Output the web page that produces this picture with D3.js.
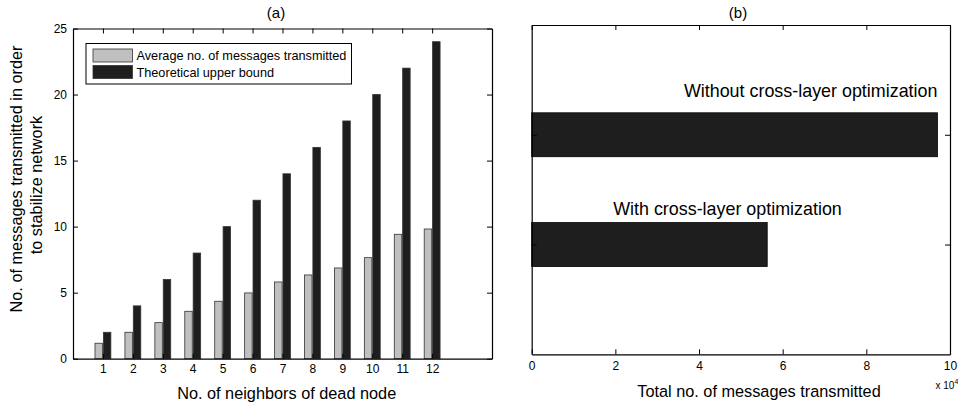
<!DOCTYPE html>
<html lang="en">
<head>
	<meta charset="utf-8">
	<title> Messages bar charts </title>
	<script src="https://d3js.org/d3.v7.min.js"></script>
	<style type="text/css">
		body{ margin: 0; background: #fff; }
		svg{ font-family: "Liberation Sans", Arial, sans-serif; }
	</style>
</head>
<body>
	<svg id="chart" width="958" height="407"></svg>

	<script type="text/javascript">

	// data, panel (a)
	var neighbors = [1, 2, 3, 4, 5, 6, 7, 8, 9, 10, 11, 12]
	var avgMessages = [1.17, 2.0, 2.73, 3.59, 4.35, 4.98, 5.81, 6.34, 6.87, 7.65, 9.42, 9.82]
	var upperBound = [2, 4, 6, 8, 10, 12, 14, 16, 18, 20, 22, 24]
	var yTicksA = [0, 5, 10, 15, 20, 25]
	var legendLabels = ["Average no. of messages transmitted", "Theoretical upper bound"]

	// data, panel (b)
	var schemes = ["With cross-layer optimization", "Without cross-layer optimization"]
	var totalMessages = [5.63, 9.70]   // x 10^4
	var xTicksB = [0, 2, 4, 6, 8, 10]

	var grey = "#c0c0c0"
	var dark = "#1e1e1e"
	var tickLen = 5

	var svg = d3.select("#chart")

	// ---------- panel (a) ----------
	var a = {left: 73, right: 492, top: 28.5, bottom: 358.7}

	var xA = d3.scaleLinear().domain([0, 14]).range([a.left, a.right])
	var yA = d3.scaleLinear().domain([0, 25]).range([a.bottom, a.top])

	var gA = svg.append("g")

	// bars
	var barW = 0.25
	gA.append("g")
		.selectAll("rect")
		.data(neighbors)
		.join("rect")
		.attr("x", (d, i) => xA(d - 0.14 - barW / 2))
		.attr("width", xA(barW) - xA(0))
		.attr("y", (d, i) => yA(avgMessages[i]))
		.attr("height", (d, i) => yA(0) - yA(avgMessages[i]))
		.attr("fill", grey)
		.attr("stroke", "#333")
		.attr("stroke-width", 0.8)
		.clone(true)
		.attr("x", (d, i) => xA(d + 0.14 - barW / 2))
		.attr("y", (d, i) => yA(upperBound[i]))
		.attr("height", (d, i) => yA(0) - yA(upperBound[i]))
		.attr("fill", dark)

	// axes, inward ticks like matlab
	gA.append("g")
		.attr("transform", "translate(0," + a.bottom + ")")
		.call(d3.axisBottom(xA).tickValues(neighbors).tickSizeInner(-tickLen).tickSizeOuter(0).tickPadding(6))
	gA.append("g")
		.attr("transform", "translate(0," + a.top + ")")
		.call(d3.axisTop(xA).tickValues(neighbors).tickSizeInner(-tickLen).tickSizeOuter(0).tickFormat(""))
	gA.append("g")
		.attr("transform", "translate(" + a.left + ",0)")
		.call(d3.axisLeft(yA).tickValues(yTicksA).tickSizeInner(-tickLen).tickSizeOuter(0).tickPadding(6))
	gA.append("g")
		.attr("transform", "translate(" + a.right + ",0)")
		.call(d3.axisRight(yA).tickValues(yTicksA).tickSizeInner(-tickLen).tickSizeOuter(0).tickFormat(""))

	// legend
	var leg = gA.append("g").attr("transform", "translate(86,43.5)")
	leg.append("rect")
		.attr("width", 265.5).attr("height", 40.5)
		.attr("fill", "#fff").attr("stroke", "#000").attr("stroke-width", 1)
	leg.selectAll("g")
		.data(legendLabels)
		.join("g")
		.attr("transform", (d, i) => "translate(7," + (5.5 + i * 16.5) + ")")
		.each(function(d, i){
			var g = d3.select(this)
			g.append("rect")
				.attr("width", 39.5).attr("height", 13)
				.attr("fill", i == 0 ? grey : dark)
				.attr("stroke", "#333").attr("stroke-width", 0.8)
			g.append("text")
				.attr("x", 43.5).attr("y", 11)
				.attr("font-size", 12.7)
				.text(d)
		})

	// titles and labels
	gA.append("text")
		.attr("x", 276).attr("y", 18)
		.attr("text-anchor", "middle").attr("font-size", 15)
		.text("(a)")
	gA.append("text")
		.attr("x", 286.7).attr("y", 399)
		.attr("text-anchor", "middle").attr("font-size", 16.3)
		.text("No. of neighbors of dead node")
	gA.append("text")
		.attr("transform", "translate(21.7,179) rotate(-90)")
		.attr("text-anchor", "middle").attr("font-size", 16.3)
		.text("No. of messages transmitted in order")
	gA.append("text")
		.attr("transform", "translate(42,185) rotate(-90)")
		.attr("text-anchor", "middle").attr("font-size", 16.3)
		.text("to stabilize network")

	// ---------- panel (b) ----------
	var b = {left: 531.7, right: 950, top: 25, bottom: 354.3}

	var xB = d3.scaleLinear().domain([0, 10]).range([b.left, b.right])
	var yB = d3.scaleLinear().domain([0, 3]).range([b.bottom, b.top])

	var gB = svg.append("g")

	var barH = 0.4
	gB.append("g")
		.selectAll("rect")
		.data(schemes)
		.join("rect")
		.attr("x", xB(0))
		.attr("y", (d, i) => yB(i + 1 + barH / 2))
		.attr("width", (d, i) => xB(totalMessages[i]) - xB(0))
		.attr("height", yB(0) - yB(barH))
		.attr("fill", dark)
		.attr("stroke", "#000")
		.attr("stroke-width", 0.8)

	gB.append("g")
		.attr("transform", "translate(0," + b.bottom + ")")
		.call(d3.axisBottom(xB).tickValues(xTicksB).tickSizeInner(-tickLen).tickSizeOuter(0).tickPadding(7))
	gB.append("g")
		.attr("transform", "translate(0," + b.top + ")")
		.call(d3.axisTop(xB).tickValues(xTicksB).tickSizeInner(-tickLen).tickSizeOuter(0).tickFormat(""))
	gB.append("g")
		.attr("transform", "translate(" + b.left + ",0)")
		.call(d3.axisLeft(yB).tickValues([1, 2]).tickSizeInner(-tickLen).tickSizeOuter(0).tickFormat(""))
	gB.append("g")
		.attr("transform", "translate(" + b.right + ",0)")
		.call(d3.axisRight(yB).tickValues([1, 2]).tickSizeInner(-tickLen).tickSizeOuter(0).tickFormat(""))

	// bar annotations
	gB.append("text")
		.attr("x", xB(totalMessages[1])).attr("y", 97)
		.attr("text-anchor", "end").attr("font-size", 17.9)
		.text(schemes[1])
	gB.append("text")
		.attr("x", 727.5).attr("y", 215)
		.attr("text-anchor", "middle").attr("font-size", 17.9)
		.text(schemes[0])

	gB.append("text")
		.attr("x", 738).attr("y", 18)
		.attr("text-anchor", "middle").attr("font-size", 15)
		.text("(b)")
	gB.append("text")
		.attr("x", 759).attr("y", 397)
		.attr("text-anchor", "middle").attr("font-size", 16.3)
		.text("Total no. of messages transmitted")
	var ex = gB.append("text")
		.attr("x", 935.5).attr("y", 389)
		.attr("font-size", 10)
	ex.append("tspan").text("x 10")
	ex.append("tspan").attr("dy", -5).attr("font-size", 7).text("4")

	// common axis style
	svg.selectAll(".domain").attr("stroke", "#000").attr("stroke-width", 1.2)
	svg.selectAll(".tick text").attr("font-size", 12).attr("fill", "#000")
		.attr("font-family", "Liberation Sans, Arial, sans-serif")
	svg.selectAll(".tick line").attr("stroke", "#000")

	</script>
</body>
</html>
